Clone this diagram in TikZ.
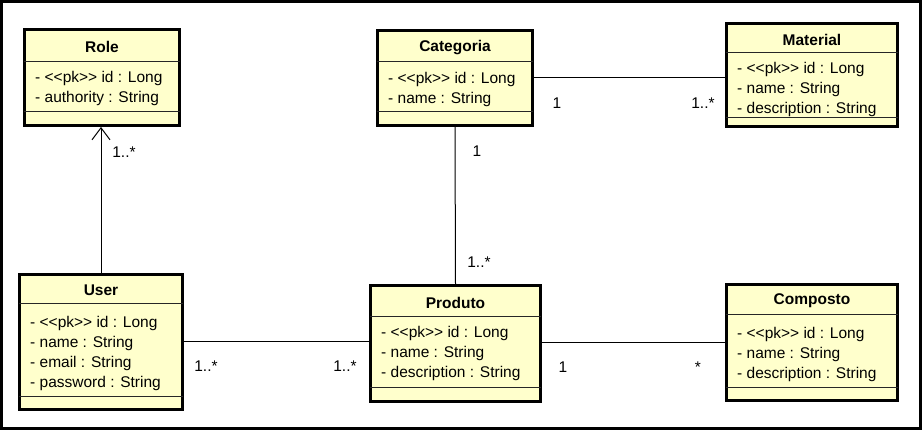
\documentclass[tikz,border=0pt]{standalone}
\usepackage{fontspec}
\setmainfont{Liberation Sans}
\usetikzlibrary{arrows.meta}
\definecolor{clsfill}{RGB}{255,255,204}
\newcommand{\pk}{<\kern0pt<pk>\kern0pt>}
\tikzset{
  clsbox/.style={draw=black, fill=clsfill, line width=2.8pt, inner sep=0pt},
  sepline/.style={draw=black!85, line width=0.9pt},
  clstitle/.style={font=\fontsize{15.5}{18}\selectfont\bfseries, inner sep=0pt},
  attr/.style={anchor=west, inner sep=0pt, text height=8pt, text depth=0pt},
  assoc/.style={draw=black, line width=1pt},
  mult/.style={inner sep=0pt, text height=8pt, text depth=0pt}
}
% name, L, T, R, B, title sep, bottom sep, title
\newcommand{\umlbox}[8]{%
  \node[clsbox, minimum width={(#4-#2-2.8)*1pt}, minimum height={(#5-#3-2.8)*1pt}]
    (#1) at ({(#2+#4)/2},{(#3+#5)/2}) {};
  \draw[sepline] ({#2+1.4},#6) -- ({#4-1.4},#6);
  \draw[sepline] ({#2+1.4},#7) -- ({#4-1.4},#7);
  \node[clstitle] (#1-title) at ({(#2+#4)/2},{(#3+#6)/2+2.5}) {#8};
}
% name, L, first y, list
\newcommand{\umlattrs}[4]{%
  \foreach \t [count=\i] in {#4} {
    \node[attr] (#1-a\i) at ({#2+12},{#3+2+20*(\i-1)}) {\t};
  }
}
\begin{document}
\begin{tikzpicture}[x=1pt,y=-1pt,font=\fontsize{15.5}{18}\selectfont]
\useasboundingbox (0,0) rectangle (922,430);
\draw[line width=3pt] (1.5,1.5) rectangle (920.5,428.5);

\umlbox{role}{23}{28}{181}{127}{61}{111}{Role}
\umlattrs{role}{23}{77}{- \pk{} id : Long, - authority : String}

\umlbox{cat}{376}{29}{534}{127}{61}{111}{Categoria}
\umlattrs{cat}{376}{78}{- \pk{} id : Long, - name : String}

\umlbox{mat}{725}{22}{899}{128}{52}{117}{Material}
\umlattrs{mat}{725}{68}{- \pk{} id : Long, - name : String, - description : String}

\umlbox{user}{18}{273}{184}{411}{303}{396}{User}
\umlattrs{user}{18}{322}{- \pk{} id : Long, - name : String, - email : String, - password : String}

\umlbox{prod}{369}{284}{542}{403}{316}{387}{Produto}
\umlattrs{prod}{369}{332}{- \pk{} id : Long, - name : String, - description : String}

\umlbox{comp}{725}{283}{899}{402}{314}{387}{Composto}
\umlattrs{comp}{725}{333}{- \pk{} id : Long, - name : String, - description : String}

% connectors
\draw[assoc, -{Straight Barb[length=12pt,width=18pt,line width=1pt]}] (user.north) -- (user.north |- role.south);
\draw[assoc] (cat.east) -- (cat.east -| mat.west);
\draw[assoc] (cat.south) -- (prod.north);
\draw[assoc] (user.east) -- (user.east -| prod.west);
\draw[assoc] (prod.east |- comp.west) -- (comp.west);

% multiplicities
\node[mult] (m1) at (124,154) {1..*};
\node[mult] (m2) at (557,105) {1};
\node[mult] (m3) at (703,105) {1..*};
\node[mult] (m4) at (477,153) {1};
\node[mult] (m5) at (479,264) {1..*};
\node[mult] (m6) at (206,368) {1..*};
\node[mult] (m7) at (345,368) {1..*};
\node[mult] (m8) at (563,369) {1};
\node[mult] (m9) at (698,369) {*};
\end{tikzpicture}
\end{document}
